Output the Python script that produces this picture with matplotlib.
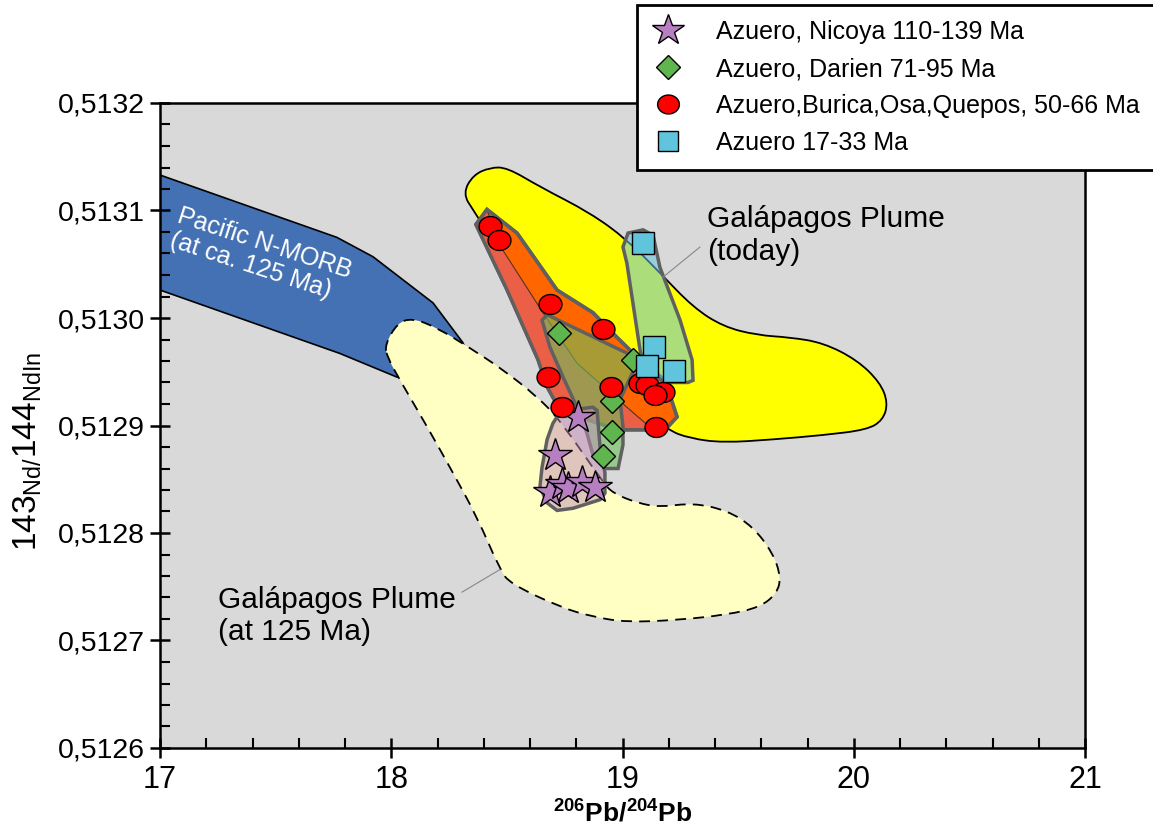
import numpy as np
import matplotlib
matplotlib.use("Agg")
import matplotlib.pyplot as plt
from matplotlib.patches import Polygon, PathPatch
from matplotlib.path import Path
from matplotlib.ticker import MultipleLocator, FuncFormatter

plt.rcParams['font.family'] = ['Liberation Sans', 'DejaVu Sans']
plt.rcParams['mathtext.fontset'] = 'custom'
plt.rcParams['mathtext.rm'] = 'Liberation Sans'
plt.rcParams['mathtext.bf'] = 'Liberation Sans:bold'
plt.rcParams['mathtext.it'] = 'Liberation Sans:italic'

# --- muestras (206Pb/204Pb, 143Nd/144Nd) ---
nicoya_pb = [18.808, 18.708, 18.686, 18.738, 18.764, 18.825, 18.881]
nicoya_nd = [0.512908, 0.512873, 0.512838, 0.512846, 0.512842, 0.512847, 0.512843]

darien_pb = [18.725, 19.045, 18.955, 18.955, 18.916]
darien_nd = [0.512986, 0.512961, 0.512923, 0.512894, 0.512872]

burica_pb = [18.427, 18.466, 18.686, 18.916, 18.678, 18.950, 19.076, 19.106, 19.175, 19.141, 18.738, 19.145]
burica_nd = [0.513086, 0.513073, 0.513013, 0.512990, 0.512945, 0.512936, 0.512940, 0.512938,
             0.512931, 0.512928, 0.512917, 0.512899]

azuero_pb = [19.089, 19.136, 19.106, 19.223]
azuero_nd = [0.513070, 0.512973, 0.512955, 0.512951]

# --- campos ---
morb_field = [(17.0, 0.513133), (17.765, 0.513075), (17.921, 0.513057), (18.181, 0.513014),
              (18.310, 0.512977), (18.341, 0.512961), (18.124, 0.512942), (18.025, 0.512945),
              (17.778, 0.512967), (17.0, 0.513026)]

plume125_field = [(17.973, 0.512975), (18.025, 0.512995), (18.090, 0.513000), (18.198, 0.512991),
                  (18.341, 0.512972), (18.483, 0.512952), (18.630, 0.512927), (18.730, 0.512905),
                  (18.916, 0.512847), (18.959, 0.512837), (19.063, 0.512828), (19.162, 0.512824),
                  (19.305, 0.512828), (19.452, 0.512821), (19.564, 0.512806), (19.651, 0.512781),
                  (19.685, 0.512759), (19.668, 0.512744), (19.595, 0.512731), (19.452, 0.512724),
                  (19.236, 0.512719), (19.019, 0.512717), (18.872, 0.512722), (18.730, 0.512731),
                  (18.514, 0.512753), (18.470, 0.512766), (18.371, 0.512815), (18.254, 0.512861),
                  (18.155, 0.512899), (18.038, 0.512942), (17.982, 0.512964)]

plume_today_field = [(18.354, 0.513100), (18.310, 0.513116), (18.354, 0.513133), (18.427, 0.513140),
                     (18.501, 0.513140), (18.643, 0.513122), (18.859, 0.513098), (19.019, 0.513073),
                     (19.162, 0.513042), (19.305, 0.513010), (19.435, 0.512992), (19.582, 0.512984),
                     (19.724, 0.512982), (19.867, 0.512977), (20.014, 0.512961), (20.114, 0.512940),
                     (20.148, 0.512921), (20.126, 0.512905), (20.057, 0.512896), (19.867, 0.512891),
                     (19.651, 0.512887), (19.435, 0.512884), (19.292, 0.512888), (19.192, 0.512896),
                     (18.903, 0.512942), (18.557, 0.513035)]

burica_field = [(18.414, 0.513101), (18.544, 0.513079), (18.717, 0.513026), (18.872, 0.513005),
                (18.976, 0.512982), (19.076, 0.512961), (19.184, 0.512942), (19.236, 0.512908),
                (19.184, 0.512896), (19.011, 0.512896), (18.924, 0.512900), (18.730, 0.512914),
                (18.674, 0.512936), (18.635, 0.512961), (18.501, 0.513026), (18.366, 0.513087)]

burica_left = [(18.414, 0.513101), (18.366, 0.513087), (18.501, 0.513026), (18.635, 0.512961),
               (18.674, 0.512936), (18.730, 0.512914), (18.903, 0.512900), (19.132, 0.512896),
               (19.019, 0.512917), (18.803, 0.512958), (18.656, 0.513005), (18.462, 0.513070)]

darien_field = [(18.652, 0.512998), (18.674, 0.513003), (19.032, 0.512966), (19.054, 0.512954),
                (18.989, 0.512924), (19.002, 0.512899), (19.002, 0.512882), (18.981, 0.512860),
                (18.929, 0.512860), (18.872, 0.512873), (18.846, 0.512893), (18.803, 0.512917),
                (18.743, 0.512945), (18.686, 0.512973)]

azuero_field = [(19.002, 0.513066), (19.024, 0.513079), (19.089, 0.513082), (19.132, 0.513077),
                (19.162, 0.513047), (19.249, 0.512998), (19.301, 0.512961), (19.305, 0.512942),
                (19.283, 0.512940), (19.184, 0.512940), (19.097, 0.512952), (19.076, 0.512970),
                (19.019, 0.513051)]

nicoya_field = [(18.717, 0.512908), (18.760, 0.512914), (18.872, 0.512917), (18.890, 0.512914),
                (18.903, 0.512880), (18.924, 0.512856), (18.924, 0.512837), (18.903, 0.512831),
                (18.786, 0.512823), (18.717, 0.512821), (18.674, 0.512828), (18.643, 0.512843),
                (18.652, 0.512861), (18.674, 0.512887), (18.699, 0.512902)]

leader_today_pb = [19.335, 19.175]
leader_today_nd = [0.513066, 0.513038]
leader_125_pb = [18.306, 18.470]
leader_125_nd = [0.512745, 0.512766]


def smooth_outline(pts):
    # contorno cerrado con curvas cuadraticas entre puntos medios
    p = np.asarray(pts)
    n = len(p)
    mids = (p + np.roll(p, -1, axis=0)) / 2
    verts = [mids[-1]]
    codes = [Path.MOVETO]
    for i in range(n):
        verts += [p[i], mids[i]]
        codes += [Path.CURVE3, Path.CURVE3]
    verts.append(mids[-1])
    codes.append(Path.CLOSEPOLY)
    return Path(verts, codes)


fig = plt.figure(figsize=(11.53, 8.32), dpi=100)
ax = fig.add_axes([160 / 1153, 1 - 748 / 832, 925 / 1153, 645 / 832])
ax.set_facecolor('#d9d9d9')

ax.add_patch(Polygon(morb_field, closed=True, fc='#4371b3', ec='black', lw=1.2, zorder=1))
ax.add_patch(PathPatch(smooth_outline(plume125_field), fc='#ffffc4', ec='black', lw=1.3,
                       ls=(0, (6, 4)), zorder=2))
ax.add_patch(PathPatch(smooth_outline(plume_today_field), fc='#ffff00', ec='black', lw=1.3, zorder=3))
ax.add_patch(Polygon(burica_field, closed=True, fc='#ff6600', ec='#606060', lw=2.5, zorder=4))
ax.add_patch(Polygon(burica_left, closed=True, fc='#ea5f45', ec='none', zorder=4.5))
ax.plot([p[0] for p in burica_left[-5:]] + [burica_left[0][0]],
        [p[1] for p in burica_left[-5:]] + [burica_left[0][1]],
        color='#553322', lw=0.8, zorder=4.6)
ax.add_patch(Polygon(burica_field, closed=True, fc='none', ec='#606060', lw=2.5, zorder=4.7))
ax.add_patch(Polygon(azuero_field, closed=True, fc=(0.40, 0.76, 0.88, 0.55), ec='#606060',
                     lw=2.5, zorder=5))
ax.add_patch(Polygon(darien_field, closed=True, fc=(0.43, 0.75, 0.35, 0.6), ec='#606060',
                     lw=2.5, zorder=6))
ax.add_patch(Polygon(nicoya_field, closed=True, fc=(0.76, 0.55, 0.72, 0.5), ec='#606060',
                     lw=2.5, zorder=7))

ax.plot(leader_today_pb, leader_today_nd, color='#888888', lw=0.8, zorder=8)
ax.plot(leader_125_pb, leader_125_nd, color='#888888', lw=0.8, zorder=8)

t = np.linspace(0, 2 * np.pi, 60)
ellipse = Path(np.column_stack([1.15 * np.cos(t), np.sin(t)]), closed=True)

h1, = ax.plot(nicoya_pb, nicoya_nd, ls='none', marker='*', ms=25, mfc='#b77fc1', mec='black',
              mew=1.0, zorder=10, label='Azuero, Nicoya 110-139 Ma')
h2, = ax.plot(darien_pb, darien_nd, ls='none', marker='D', ms=12.5, mfc='#5fb64f', mec='black',
              mew=1.0, zorder=10, label='Azuero, Darien 71-95 Ma')
h3, = ax.plot(burica_pb, burica_nd, ls='none', marker=ellipse, ms=16.5, mfc='#ff0000', mec='black',
              mew=1.0, zorder=10, label='Azuero,Burica,Osa,Quepos, 50-66 Ma')
h4, = ax.plot(azuero_pb, azuero_nd, ls='none', marker='s', ms=15.5, mfc='#5fc4dc', mec='black',
              mew=1.0, zorder=10, label='Azuero 17-33 Ma')

ax.text(19.365, 0.513105, 'Galápagos Plume\n(today)', fontsize=21.5, ha='left', va='top',
        linespacing=1.2, zorder=11)
ax.text(17.251, 0.512751, 'Galápagos Plume\n(at 125 Ma)', fontsize=21.5, ha='left', va='top',
        linespacing=1.2, zorder=11)
ax.text(17.095, 0.513106, 'Pacific N-MORB\n(at ca. 125 Ma)', fontsize=18, color='white',
        ha='left', va='top', rotation=-18, rotation_mode='anchor', linespacing=1.05, zorder=11)

ax.set_xlim(17, 21)
ax.set_ylim(0.5126, 0.5132)
ax.xaxis.set_major_locator(MultipleLocator(1))
ax.xaxis.set_minor_locator(MultipleLocator(0.2))
ax.yaxis.set_major_locator(MultipleLocator(0.0001))
ax.yaxis.set_minor_locator(MultipleLocator(0.00002))
ax.yaxis.set_major_formatter(FuncFormatter(lambda v, p: f'{v:.4f}'.replace('.', ',')))
ax.xaxis.set_major_formatter(FuncFormatter(lambda v, p: f'{v:.0f}'))

ax.tick_params(which='major', direction='inout', length=14, width=1.8, labelsize=20.5, pad=4)
ax.tick_params(which='minor', direction='in', length=7, width=1.5)
ax.tick_params(axis='x', which='major', labelsize=22, pad=5)
for s in ax.spines.values():
    s.set_linewidth(1.8)

ax.set_xlabel(r'$\mathbf{^{206}Pb/^{204}Pb}$', fontsize=19, labelpad=4)
ax.set_ylabel(r'$\mathrm{143_{Nd/}144_{NdIn}}$', fontsize=24)
ax.yaxis.set_label_coords(-0.125, 0.46)

leg = fig.legend(handles=[h1, h2, h3, h4], loc='upper left', bbox_to_anchor=(637 / 1153, 1 - 5 / 832),
                 fontsize=18, frameon=True, fancybox=False, edgecolor='black', framealpha=1,
                 borderaxespad=0, borderpad=0.6, labelspacing=0.52, handletextpad=1.25,
                 handlelength=1.3, markerscale=0.95)
leg.get_frame().set_linewidth(2)

fig.savefig('out.png', dpi=100)
